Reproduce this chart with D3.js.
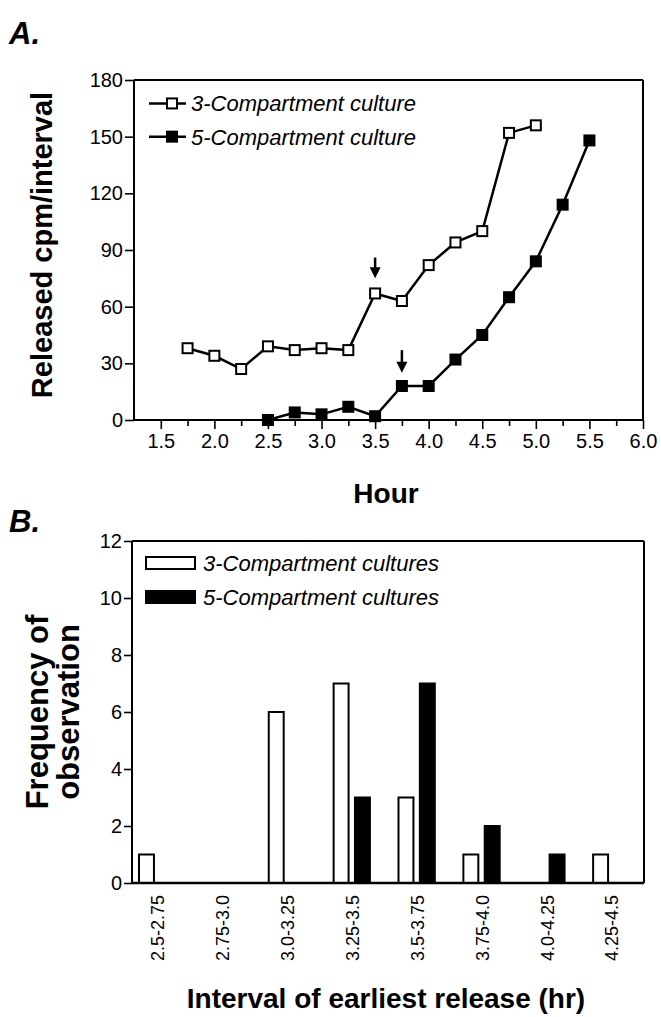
<!DOCTYPE html>
<html><head><meta charset="utf-8">
<script src="https://cdn.jsdelivr.net/npm/d3@7/dist/d3.min.js"></script>
<style>
html,body{margin:0;padding:0;background:#fff;}
svg{display:block;font-family:"Liberation Sans",Arial,Helvetica,sans-serif;}
</style></head>
<body>
<svg id="c" width="661" height="1017"></svg>
<script>
// ---------- Panel A data ----------
const hours3 = [1.75, 2.0, 2.25, 2.5, 2.75, 3.0, 3.25, 3.5, 3.75, 4.0, 4.25, 4.5, 4.75, 5.0];
const cpm3   = [38, 34, 27, 39, 37, 38, 37, 67, 63, 82, 94, 100, 152, 156];
const hours5 = [2.5, 2.75, 3.0, 3.25, 3.5, 3.75, 4.0, 4.25, 4.5, 4.75, 5.0, 5.25, 5.5];
const cpm5   = [0, 4, 3, 7, 2, 18, 18, 32, 45, 65, 84, 114, 148];
const arrowHours = [3.5, 3.75];
const arrowTop   = [86, 37];
const arrowTip   = [75, 25];
const yTicksA = [0, 30, 60, 90, 120, 150, 180];
const xTicksA = [1.5, 2.0, 2.5, 3.0, 3.5, 4.0, 4.5, 5.0, 5.5, 6.0];
const xMinorA = [1.75, 2.25, 2.75, 3.25, 3.75, 4.25, 4.75, 5.25, 5.75];
const seriesA = ["3-Compartment culture", "5-Compartment culture"];

// ---------- Panel B data ----------
const intervals = ["2.5-2.75", "2.75-3.0", "3.0-3.25", "3.25-3.5", "3.5-3.75", "3.75-4.0", "4.0-4.25", "4.25-4.5"];
const freq3 = [1, 0, 6, 7, 3, 1, 0, 1];
const freq5 = [0, 0, 0, 3, 7, 2, 1, 0];
const yTicksB = [0, 2, 4, 6, 8, 10, 12];
const seriesB = ["3-Compartment cultures", "5-Compartment cultures"];

const svg = d3.select("#c");
const FONT = '"Liberation Sans",Arial,Helvetica,sans-serif';
const TICKFS = 20, LEGFS = 22, TITLEFS = 28;

// ================= PANEL A =================
const xA = d3.scaleLinear().domain([1.25, 6.0]).range([134, 643]);
const yA = d3.scaleLinear().domain([0, 180]).range([420, 80]);

svg.append("text").attr("x", 9).attr("y", 44).attr("font-size", 31)
  .attr("font-weight", "bold").attr("font-style", "italic").text("A.");

const gA = svg.append("g");
gA.append("line").attr("x1", xA(1.25)).attr("x2", xA(6.0)).attr("y1", yA(180)).attr("y2", yA(180))
  .attr("stroke", "#000").attr("stroke-width", 2);
gA.append("line").attr("x1", xA(6.0)).attr("x2", xA(6.0)).attr("y1", yA(180)).attr("y2", yA(0))
  .attr("stroke", "#000").attr("stroke-width", 2);

const axLA = gA.append("g").attr("transform", `translate(${xA(1.25)},0)`)
  .call(d3.axisLeft(yA).tickValues(yTicksA).tickSize(9).tickPadding(2).tickFormat(d3.format("d")));
const axBA = gA.append("g").attr("transform", `translate(0,${yA(0)})`)
  .call(d3.axisBottom(xA).tickValues(xTicksA).tickSize(9).tickPadding(5).tickFormat(d3.format(".1f")));
const axBAm = gA.append("g").attr("transform", `translate(0,${yA(0)})`)
  .call(d3.axisBottom(xA).tickValues(xMinorA).tickSize(6).tickFormat(""));
[axLA, axBA, axBAm].forEach(a => {
  a.select(".domain").attr("d", null);
  a.selectAll(".tick line").attr("stroke-width", 1.6);
  a.selectAll("text").attr("font-size", TICKFS).attr("font-family", FONT).attr("fill", "#000");
});
gA.append("line").attr("x1", xA(1.25)).attr("x2", xA(1.25)).attr("y1", yA(0)).attr("y2", yA(180)).attr("stroke", "#000").attr("stroke-width", 2);
gA.append("line").attr("x1", xA(1.25)).attr("x2", xA(6.0)).attr("y1", yA(0)).attr("y2", yA(0)).attr("stroke", "#000").attr("stroke-width", 2);

svg.append("text").attr("transform", `translate(52,245) rotate(-90)`).attr("text-anchor", "middle")
  .attr("font-size", 29).attr("font-weight", "bold").text("Released cpm/interval");
svg.append("text").attr("x", 386).attr("y", 503).attr("text-anchor", "middle")
  .attr("font-size", TITLEFS).attr("font-weight", "bold").text("Hour");

const lineA = d3.line().x(d => xA(d[0])).y(d => yA(d[1]));
const d3s = hours3.map((h, i) => [h, cpm3[i]]);
const d5s = hours5.map((h, i) => [h, cpm5[i]]);
gA.append("path").datum(d3s).attr("d", lineA).attr("fill", "none").attr("stroke", "#000").attr("stroke-width", 2.5);
gA.append("path").datum(d5s).attr("d", lineA).attr("fill", "none").attr("stroke", "#000").attr("stroke-width", 2.5);
const S = 10;
gA.selectAll(".m3").data(d3s).enter().append("rect")
  .attr("x", d => xA(d[0]) - S / 2).attr("y", d => yA(d[1]) - S / 2).attr("width", S).attr("height", S)
  .attr("fill", "#fff").attr("stroke", "#000").attr("stroke-width", 2);
gA.selectAll(".m5").data(d5s).enter().append("rect")
  .attr("x", d => xA(d[0]) - S / 2).attr("y", d => yA(d[1]) - S / 2).attr("width", S).attr("height", S)
  .attr("fill", "#000").attr("stroke", "#000").attr("stroke-width", 2);

arrowHours.forEach((h, i) => {
  const x = xA(h), yt = yA(arrowTop[i]), yp = yA(arrowTip[i]);
  gA.append("line").attr("x1", x).attr("x2", x).attr("y1", yt).attr("y2", yp - 8).attr("stroke", "#000").attr("stroke-width", 2.5);
  gA.append("path").attr("d", `M${x - 5.5},${yp - 11}L${x + 5.5},${yp - 11}L${x},${yp}Z`).attr("fill", "#000");
});

const legAy = [yA(167.6), yA(150)];
seriesA.forEach((s, i) => {
  const y = legAy[i];
  gA.append("line").attr("x1", 149).attr("x2", 186).attr("y1", y).attr("y2", y).attr("stroke", "#000").attr("stroke-width", 2.5);
  gA.append("rect").attr("x", 172 - S / 2).attr("y", y - S / 2).attr("width", S).attr("height", S)
    .attr("fill", i === 0 ? "#fff" : "#000").attr("stroke", "#000").attr("stroke-width", 2);
  gA.append("text").attr("x", 191).attr("y", y).attr("dy", "0.36em").attr("font-size", LEGFS)
    .attr("font-style", "italic").text(s);
});

// ================= PANEL B =================
const yB = d3.scaleLinear().domain([0, 12]).range([883, 541]);
const xB = d3.scaleBand().domain(intervals).range([125, 644]).paddingInner(0).paddingOuter(0);
const xSub = d3.scaleBand().domain(["3", "5"]).range([14, 50.3]).paddingInner(0.3);
const leftB = 132, rightB = 644;

svg.append("text").attr("x", 9).attr("y", 532).attr("font-size", 31)
  .attr("font-weight", "bold").attr("font-style", "italic").text("B.");

const gB = svg.append("g");
gB.selectAll(".b3").data(intervals).enter().append("rect")
  .filter((d, i) => freq3[i] > 0)
  .attr("x", d => xB(d) + xSub("3")).attr("width", xSub.bandwidth())
  .attr("y", d => yB(freq3[intervals.indexOf(d)])).attr("height", d => yB(0) - yB(freq3[intervals.indexOf(d)]))
  .attr("fill", "#fff").attr("stroke", "#000").attr("stroke-width", 2);
gB.selectAll(".b5").data(intervals).enter().append("rect")
  .filter((d, i) => freq5[i] > 0)
  .attr("x", d => xB(d) + xSub("5")).attr("width", xSub.bandwidth())
  .attr("y", d => yB(freq5[intervals.indexOf(d)])).attr("height", d => yB(0) - yB(freq5[intervals.indexOf(d)]))
  .attr("fill", "#000").attr("stroke", "#000").attr("stroke-width", 2);

gB.append("line").attr("x1", leftB).attr("x2", rightB).attr("y1", yB(12)).attr("y2", yB(12)).attr("stroke", "#000").attr("stroke-width", 2);
gB.append("line").attr("x1", rightB).attr("x2", rightB).attr("y1", yB(12)).attr("y2", yB(0)).attr("stroke", "#000").attr("stroke-width", 2);
const axLB = gB.append("g").attr("transform", `translate(${leftB},0)`)
  .call(d3.axisLeft(yB).tickValues(yTicksB).tickSize(8).tickPadding(2).tickFormat(d3.format("d")));
axLB.select(".domain").attr("d", null);
axLB.selectAll(".tick line").attr("stroke-width", 1.6);
axLB.selectAll("text").attr("font-size", TICKFS).attr("font-family", FONT).attr("fill", "#000");
gB.append("line").attr("x1", leftB).attr("x2", leftB).attr("y1", yB(0)).attr("y2", yB(12)).attr("stroke", "#000").attr("stroke-width", 2);
gB.append("line").attr("x1", leftB).attr("x2", rightB).attr("y1", yB(0)).attr("y2", yB(0)).attr("stroke", "#000").attr("stroke-width", 2.5);

gB.selectAll(".cl").data(intervals).enter().append("text")
  .attr("transform", d => `translate(${xB(d) + 33},${yB(0) + 12}) rotate(-90)`)
  .attr("text-anchor", "end").attr("dy", "0.35em").attr("font-size", 18).text(d => d);

const legBy = [563, 597];
seriesB.forEach((s, i) => {
  gB.append("rect").attr("x", 146).attr("y", legBy[i] - 6).attr("width", 49).attr("height", 12)
    .attr("fill", i === 0 ? "#fff" : "#000").attr("stroke", "#000").attr("stroke-width", 2);
  gB.append("text").attr("x", 203).attr("y", legBy[i]).attr("dy", "0.36em").attr("font-size", LEGFS)
    .attr("font-style", "italic").text(s);
});

const tB = svg.append("text").attr("transform", `translate(51,712) rotate(-90)`).attr("text-anchor", "middle")
  .attr("font-size", 31).attr("font-weight", "bold");
tB.append("tspan").attr("x", 0).attr("dy", "-0.1em").text("Frequency of");
tB.append("tspan").attr("x", 0).attr("dy", "1.0em").text("observation");
svg.append("text").attr("x", 386).attr("y", 1008).attr("text-anchor", "middle")
  .attr("font-size", TITLEFS).attr("font-weight", "bold").text("Interval of earliest release (hr)");
</script>
</body></html>
